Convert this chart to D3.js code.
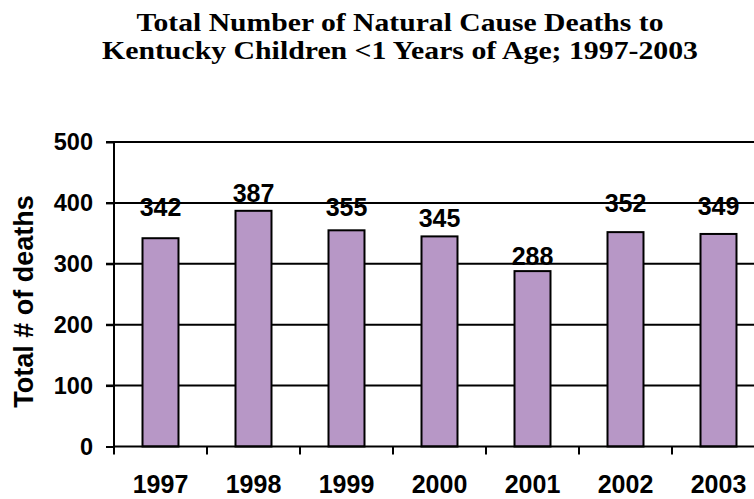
<!DOCTYPE html>
<html><head><meta charset="utf-8">
<script src="https://cdn.jsdelivr.net/npm/d3@7"></script>
<style>html,body{margin:0;padding:0;background:#fff;overflow:hidden}</style>
</head><body>
<script>
const titleLines = ["Total Number of Natural Cause Deaths to", "Kentucky Children <1 Years of Age; 1997-2003"];
const yAxisTitle = "Total # of deaths";
const years = ["1997","1998","1999","2000","2001","2002","2003"];
const deaths = [342, 387, 355, 345, 288, 352, 349];
const yTicks = [0, 100, 200, 300, 400, 500];
// label gap above bar top (px), as placed in the original
const labelGap = [22, 9, 14, 9, 6, 20, 19];
const titleWidths = [527, 596];

const W = 754, H = 499;
const svg = d3.select("body").append("svg").attr("width", W).attr("height", H);
const pL = 114, pR = 765, pT = 142, pB = 446.5;

const x = d3.scaleBand().domain(years).range([pL, pR]).paddingInner(0.613).paddingOuter(0.3065);
const y = d3.scaleLinear().domain([0, 500]).range([pB, pT]);
const step = x.step();

// title
svg.append("g").selectAll("text").data(titleLines).join("text")
  .attr("x", 400).attr("y", (d,i) => 31 + i*27.5)
  .attr("text-anchor", "middle")
  .attr("textLength", (d,i) => titleWidths[i]).attr("lengthAdjust", "spacingAndGlyphs")
  .style("font-family", "'Liberation Serif','Times New Roman',serif")
  .style("font-weight", "bold").style("font-size", "26px")
  .text(d => d);

// gridlines
svg.append("g").selectAll("line").data(yTicks.filter(d => d > 0)).join("line")
  .attr("x1", pL - 8).attr("x2", pR).attr("y1", d => y(d)).attr("y2", d => y(d))
  .attr("stroke", "#000").attr("stroke-width", 2);

// bars
svg.append("g").selectAll("rect").data(deaths).join("rect")
  .attr("x", (d,i) => x(years[i])).attr("width", x.bandwidth())
  .attr("y", d => y(d)).attr("height", d => y(0) - y(d))
  .attr("fill", "#b797c6").attr("stroke", "#000").attr("stroke-width", 2);

// y axis
const yAxis = d3.axisLeft(y).tickValues(yTicks).tickSize(8).tickPadding(13);
const gy = svg.append("g").attr("transform", `translate(${pL},0)`).call(yAxis);
gy.select(".domain").attr("stroke-width", 2).attr("d", `M0,${pB}V${pT}`);
gy.selectAll(".tick line").attr("stroke-width", 2);
gy.selectAll(".tick text").style("font-family", "'Liberation Sans',Arial,sans-serif")
  .style("font-weight", "bold").style("font-size", "23.5px").attr("fill", "#000");

// x axis baseline + ticks at boundaries
svg.append("line").attr("x1", pL).attr("x2", pR).attr("y1", pB).attr("y2", pB)
  .attr("stroke", "#000").attr("stroke-width", 2);
const bounds = d3.range(years.length + 1).map(i => pL + i*step);
svg.append("g").selectAll("line").data(bounds).join("line")
  .attr("x1", d => d).attr("x2", d => d).attr("y1", pB).attr("y2", pB + 8)
  .attr("stroke", "#000").attr("stroke-width", 2);
svg.append("g").selectAll("text").data(years).join("text")
  .attr("x", d => x(d) + x.bandwidth()/2).attr("y", 493)
  .attr("text-anchor", "middle")
  .style("font-family", "'Liberation Sans',Arial,sans-serif")
  .style("font-weight", "bold").style("font-size", "25px")
  .text(d => d);

// value labels
svg.append("g").selectAll("text").data(deaths).join("text")
  .attr("x", (d,i) => x(years[i]) + x.bandwidth()/2)
  .attr("y", (d,i) => y(d) - labelGap[i])
  .attr("text-anchor", "middle")
  .style("font-family", "'Liberation Sans',Arial,sans-serif")
  .style("font-weight", "bold").style("font-size", "25px")
  .text(d => d);

// y axis title
svg.append("text").attr("transform", "translate(33,301.5) rotate(-90)")
  .attr("text-anchor", "middle")
  .style("font-family", "'Liberation Sans',Arial,sans-serif")
  .style("font-weight", "bold").style("font-size", "27px")
  .text(yAxisTitle);
</script>
</body></html>
